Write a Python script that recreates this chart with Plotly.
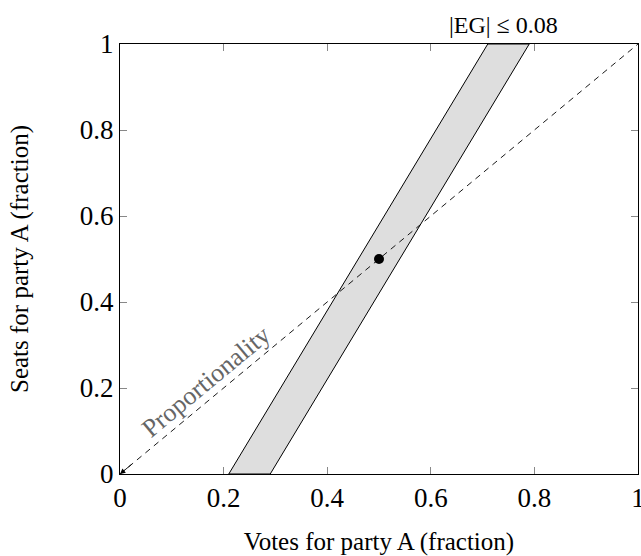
import plotly.graph_objects as go

# Data
band_seats = [0.0, 1.0]
band_votes_left = [0.21, 0.71]   # EG = +0.08 boundary
band_votes_right = [0.29, 0.79]  # EG = -0.08 boundary
prop_votes = [0.0, 1.0]
prop_seats = [0.0, 1.0]
point_votes = [0.5]
point_seats = [0.5]
tick_vals = [0, 0.2, 0.4, 0.6, 0.8, 1]
tick_text = ["0", "0.2", "0.4", "0.6", "0.8", "1"]

FONT = "Liberation Serif, serif"

fig = go.Figure()

# band polygon
poly_x = band_votes_left + band_votes_right[::-1] + [band_votes_left[0]]
poly_y = band_seats + band_seats[::-1] + [band_seats[0]]
fig.add_trace(go.Scatter(x=poly_x, y=poly_y, mode="lines", fill="toself",
                         fillcolor="#dedede", line=dict(color="black", width=1),
                         hoverinfo="skip", showlegend=False))

# proportionality
fig.add_trace(go.Scatter(x=prop_votes, y=prop_seats, mode="lines",
                         line=dict(color="black", width=0.9, dash="6px,5px"),
                         showlegend=False))

# point
fig.add_trace(go.Scatter(x=point_votes, y=point_seats, mode="markers",
                         marker=dict(color="black", size=10), showlegend=False))

fig.add_annotation(x=0.166, y=0.216, xref="x", yref="y", text="Proportionality",
                   showarrow=False, textangle=-39.7,
                   font=dict(family=FONT, size=26, color="#666666"))
fig.add_annotation(x=prop_votes[0], y=prop_seats[0], ax=0.025, ay=0.025,
                   xref="x", yref="y", axref="x", ayref="y", text="",
                   showarrow=True, arrowhead=2, arrowsize=1.2, arrowwidth=0.9,
                   arrowcolor="black")
fig.add_annotation(x=0.74, y=1.0, xref="x", yref="y", yanchor="bottom", yshift=4,
                   text="|EG| ≤ 0.08", showarrow=False,
                   font=dict(family=FONT, size=24, color="black"))

axis_common = dict(range=[0, 1], tickvals=tick_vals, ticktext=tick_text,
                   showgrid=False, zeroline=False, showline=True, linecolor="black",
                   linewidth=1, mirror="ticks", ticks="inside", ticklen=7,
                   tickcolor="#888888", tickwidth=1, ticklabeloverflow="allow",
                   automargin=False,
                   tickfont=dict(family=FONT, size=27, color="black"))

fig.update_xaxes(**axis_common, title=dict(text="Votes for party A (fraction)",
                 font=dict(family=FONT, size=25, color="black"), standoff=20))
fig.update_yaxes(**axis_common, title=dict(text="Seats for party A (fraction)",
                 font=dict(family=FONT, size=25, color="black"), standoff=44))

fig.update_layout(width=641, height=556, plot_bgcolor="white", paper_bgcolor="white",
                  font=dict(family=FONT),
                  margin=dict(l=120, r=3, t=44, b=82), showlegend=False)

fig.write_html("out.html")
